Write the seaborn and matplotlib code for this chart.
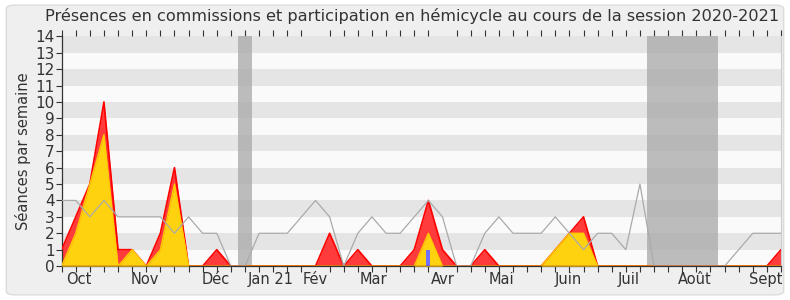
import numpy as np
import pandas as pd
import matplotlib
matplotlib.use("Agg")
import matplotlib.pyplot as plt
from matplotlib.patches import FancyBboxPatch
import seaborn as sns

# ---- data ----
weeks = list(range(52))
hemicycle = [1, 3, 5, 10, 1, 1, 0, 2, 6, 0, 0, 1, 0, 0, 0, 0, 0, 0, 0, 2,
             0, 1, 0, 0, 0, 1, 4, 1, 0, 0, 1, 0, 0, 0, 0, 1, 2, 3, 0, 0,
             0, 0, 0, 0, 0, 0, 0, 0, 0, 0, 0, 1]
commission = [0, 2, 5, 8, 0, 1, 0, 1, 5, 0, 0, 0, 0, 0, 0, 0, 0, 0, 0, 0,
              0, 0, 0, 0, 0, 0, 2, 0, 0, 0, 0, 0, 0, 0, 0, 1, 2, 2, 0, 0,
              0, 0, 0, 0, 0, 0, 0, 0, 0, 0, 0, 0]
mediane = [4, 4, 3, 4, 3, 3, 3, 3, 2, 3, 2, 2, 0, 0, 2, 2, 2, 3, 4, 3,
           0, 2, 3, 2, 2, 3, 4, 3, 0, 0, 2, 3, 2, 2, 2, 3, 2, 1, 2, 2,
           1, 5, 0, 0, 0, 0, 0, 0, 1, 2, 2, 2]
questions_week = [26]
questions_val = [1]
vacances = [(12.5, 13.5), (41.5, 46.5)]
month_pos = [1.2, 5.9, 10.9, 14.8, 18.0, 22.1, 27.0, 31.2, 35.9, 40.2, 44.9, 49.9]
month_labels = ["Oct", "Nov", "Déc", "Jan 21", "Fév", "Mar", "Avr", "Mai",
                "Juin", "Juil", "Août", "Sept"]
title = "Présences en commissions et participation en hémicycle au cours de la session 2020-2021"
ylabel = "Séances par semaine"

df = pd.DataFrame({"semaine": weeks, "hemicycle": hemicycle,
                   "commission": commission, "mediane": mediane})

sns.set_theme(style="white")
plt.rcParams['font.family'] = ['DejaVu Sans']

fig = plt.figure(figsize=(7.9, 3.0), dpi=100, facecolor="white")
bg = FancyBboxPatch((0.008, 0.017), 0.984, 0.966, boxstyle="round,pad=0,rounding_size=0.012",
                    transform=fig.transFigure, facecolor="#efefef", edgecolor="#dcdcdc",
                    linewidth=1.0, zorder=-10)
fig.patches.append(bg)

ax = fig.add_axes([0.078, 0.113, 0.9106, 0.766])
ax.set_facecolor("#fafafa")

# horizontal stripes
for y0 in range(1, 14, 2):
    ax.axhspan(y0, y0 + 1, color="#e5e5e5", zorder=0, lw=0)

# vacation bands
for a, b in vacances:
    ax.axvspan(a, b, color="#a8a8a8", alpha=0.75, zorder=1, lw=0)

# areas
ax.fill_between(df["semaine"], 0, df["hemicycle"], color="#ff3b3b", zorder=2, lw=0)
sns.lineplot(data=df, x="semaine", y="hemicycle", color="#ff0000", lw=1.2, ax=ax, zorder=3)
ax.fill_between(df["semaine"], 0, df["commission"], color="#ffd20f", zorder=4, lw=0)
sns.lineplot(data=df, x="semaine", y="commission", color="#ffcc00", lw=1.0, ax=ax, zorder=5)
sns.lineplot(data=df, x="semaine", y="mediane", color="#aaaaaa", lw=0.9, ax=ax, zorder=6)
ax.bar(questions_week, questions_val, width=0.3, color="#7070ff", lw=0, zorder=7)
ax.axhline(0, color="#800000", lw=1.0, zorder=8)

ax.set_xlim(0, 51)
ax.set_ylim(0, 14)
ax.set_yticks(range(0, 15))
ax.set_yticklabels([str(v) for v in range(0, 15)], fontsize=11, color="#333333")
ax.set_xticks(month_pos)
ax.set_xticklabels(month_labels, fontsize=10.5, color="#333333")
ax.set_xticks(weeks, minor=True)
ax.tick_params(axis="x", which="major", length=0, pad=4)
ax.tick_params(axis="x", which="minor", length=4, width=0.8, color="#333333",
               bottom=True, top=True, direction="out")
ax.tick_params(axis="y", which="major", length=4, width=0.8, color="#333333", left=True, pad=1)
ax.set_xlabel("")
ax.set_ylabel(ylabel, fontsize=10.5, color="#333333", labelpad=3)

ax.spines["right"].set_visible(True)
ax.spines["right"].set_color("#cccccc")
ax.spines["right"].set_linewidth(0.8)
ax.spines["left"].set_color("#333333")
ax.spines["left"].set_linewidth(0.9)
ax.spines["bottom"].set_color("#333333")
ax.spines["bottom"].set_linewidth(0.9)
ax.spines["top"].set_visible(False)

fig.text(0.5215, 0.975, title, ha="center", va="top", fontsize=11.6, color="#333333")

fig.savefig("out.png", dpi=100, facecolor=fig.get_facecolor())
